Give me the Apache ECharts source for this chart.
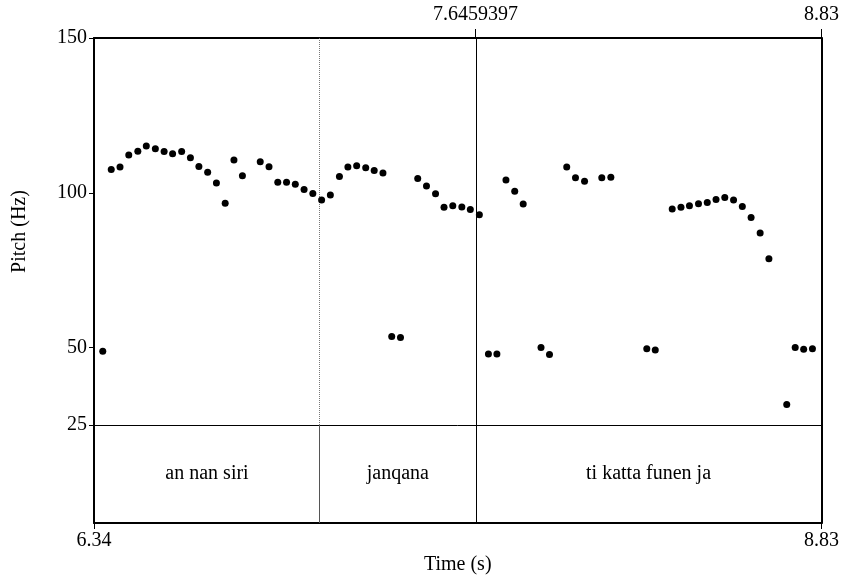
<!DOCTYPE html>
<html>
<head>
<meta charset="utf-8">
<script src="https://cdn.jsdelivr.net/npm/echarts@6/dist/echarts.min.js"></script>
<style>
html,body{margin:0;padding:0;background:#fff;}
#chart{width:842px;height:579px;}
</style>
</head>
<body>
<div id="chart"></div>
<script>
// Pitch track (time in s, pitch in Hz)
var times = [6.370,6.399,6.429,6.459,6.490,6.519,6.550,6.580,6.609,6.640,6.670,6.699,6.729,6.759,6.789,6.819,6.848,6.909,6.939,6.969,6.999,7.029,7.059,7.089,7.119,7.149,7.180,7.209,7.239,7.270,7.299,7.329,7.359,7.389,7.448,7.478,7.509,7.538,7.568,7.599,7.628,7.659,7.690,7.719,7.750,7.780,7.809,7.870,7.899,7.958,7.988,8.019,8.078,8.109,8.232,8.261,8.319,8.349,8.378,8.409,8.439,8.469,8.499,8.529,8.559,8.589,8.620,8.650,8.711,8.740,8.769,8.799];
var pitch = [48.8,107.5,108.3,112.2,113.4,115.1,114.2,113.3,112.6,113.3,111.3,108.5,106.6,103.2,96.6,110.6,105.5,110.0,108.4,103.4,103.4,102.8,101.1,99.8,97.7,99.3,105.3,108.3,108.7,108.1,107.2,106.4,53.6,53.3,104.6,102.2,99.7,95.3,95.8,95.4,94.6,92.9,47.9,47.9,104.1,100.5,96.4,50.0,47.8,108.3,104.9,103.7,104.9,105.0,49.6,49.2,94.8,95.3,95.8,96.5,96.9,97.8,98.5,97.7,95.6,92.0,87.0,78.7,31.6,50.0,49.5,49.6];

// Text tier
var tierStarts = [6.34, 7.1136, 7.6459397];
var tierEnds = [7.1136, 7.6459397, 8.83];
var tierLabels = ['an nan siri', 'janqana', 'ti katta funen ja'];

// Axis ticks
var yTicks = [25, 50, 100, 150];
var topTicks = [7.6459397, 8.83];
var bottomTicks = [6.34, 8.83];
var tMin = 6.34, tMax = 8.83, fMin = 25, fMax = 150;

var FONT = "'Liberation Serif','Times New Roman',serif";
var FS = 20;

var pts = times.map(function(t, i){ return [t, pitch[i]]; });
var tierData = tierLabels.map(function(l, i){ return {value:[(tierStarts[i]+tierEnds[i])/2, 0.5], name:l}; });

var chart = echarts.init(document.getElementById('chart'), null, {renderer:'canvas'});
var noLine = {show:false};
chart.setOption({
  animation:false,
  backgroundColor:'#fff',
  grid:[
    {left:94, right:19, top:38, height:387},
    {left:94, right:19, top:425, height:98}
  ],
  xAxis:[
    { // grid0 top axis
      gridIndex:0, type:'value', position:'top', min:tMin, max:tMax,
      axisLine:{show:true, onZero:false, lineStyle:{color:'#000', width:2}},
      axisTick:{show:true, inside:false, length:9, customValues:topTicks, lineStyle:{color:'#000', width:1}},
      axisLabel:{show:true, customValues:topTicks, margin:13, color:'#000', fontFamily:FONT, fontSize:FS,
        formatter:function(v){ return String(v); }},
      splitLine:noLine
    },
    { // grid0 bottom (25 Hz line)
      gridIndex:0, type:'value', position:'bottom', min:tMin, max:tMax,
      axisLine:{show:true, onZero:false, lineStyle:{color:'#000', width:1}},
      axisTick:noLine, axisLabel:noLine, splitLine:noLine
    },
    { // grid1 bottom time axis
      gridIndex:1, type:'value', position:'bottom', min:tMin, max:tMax,
      axisLine:{show:true, onZero:false, lineStyle:{color:'#000', width:2}},
      axisTick:{show:true, length:6, customValues:bottomTicks, lineStyle:{color:'#000', width:1}},
      axisLabel:{show:true, customValues:bottomTicks, margin:8, color:'#000', fontFamily:FONT, fontSize:FS,
        formatter:function(v){ return String(v); }},
      splitLine:noLine,
      name:'Time (s)', nameLocation:'middle', nameGap:32,
      nameTextStyle:{color:'#000', fontFamily:FONT, fontSize:FS}
    }
  ],
  yAxis:[
    { // grid0 left pitch axis
      gridIndex:0, type:'value', position:'left', min:fMin, max:fMax,
      axisLine:{show:true, onZero:false, lineStyle:{color:'#000', width:2}},
      axisTick:{show:true, length:5, customValues:yTicks, lineStyle:{color:'#000', width:1}},
      axisLabel:{show:true, customValues:yTicks, margin:7, color:'#000', fontFamily:FONT, fontSize:FS},
      splitLine:noLine,
      name:'Pitch (Hz)', nameLocation:'middle', nameGap:64, nameRotate:90,
      nameTextStyle:{color:'#000', fontFamily:FONT, fontSize:FS}
    },
    { // grid0 right border
      gridIndex:0, type:'value', position:'right', min:fMin, max:fMax,
      axisLine:{show:true, onZero:false, lineStyle:{color:'#000', width:2}},
      axisTick:noLine, axisLabel:noLine, splitLine:noLine
    },
    { // grid1 left
      gridIndex:1, type:'value', position:'left', min:0, max:1,
      axisLine:{show:true, onZero:false, lineStyle:{color:'#000', width:2}},
      axisTick:noLine, axisLabel:noLine, splitLine:noLine
    },
    { // grid1 right
      gridIndex:1, type:'value', position:'right', min:0, max:1,
      axisLine:{show:true, onZero:false, lineStyle:{color:'#000', width:2}},
      axisTick:noLine, axisLabel:noLine, splitLine:noLine
    }
  ],
  series:[
    {
      type:'scatter', xAxisIndex:0, yAxisIndex:0, data:pts,
      symbol:'circle', symbolSize:7, itemStyle:{color:'#000', opacity:1}, silent:true, z:5,
      markLine:{
        silent:true, symbol:['none','none'], label:{show:false}, animation:false,
        data:[
          {xAxis:tierEnds[0], lineStyle:{color:'#777', width:1, type:[1,1]}},
          {xAxis:tierEnds[1], lineStyle:{color:'#000', width:1, type:'solid'}}
        ]
      }
    },
    {
      type:'scatter', xAxisIndex:2, yAxisIndex:2, data:tierData,
      symbolSize:0, silent:true, itemStyle:{color:'#000', opacity:1},
      label:{show:true, position:'inside', formatter:function(p){ return p.name; },
        color:'#000', fontFamily:FONT, fontSize:FS},
      markLine:{
        silent:true, symbol:['none','none'], label:{show:false}, animation:false,
        data:[
          {xAxis:tierEnds[0], lineStyle:{color:'#555', width:1, type:'solid'}},
          {xAxis:tierEnds[1], lineStyle:{color:'#000', width:1, type:'solid'}}
        ]
      }
    }
  ]
});
</script>
</body>
</html>
